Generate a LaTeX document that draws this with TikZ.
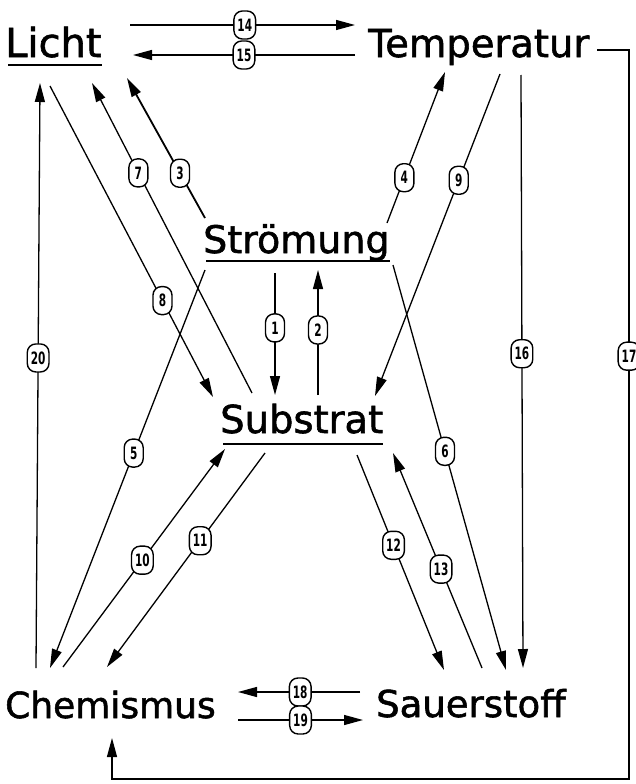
\documentclass[tikz,border=0pt]{standalone}
\usepackage{fontspec}
\setmainfont{DejaVu Sans}
\newfontfamily\wordfont{DejaVu Sans}[FakeBold=1.5]
\newfontfamily\numfont{DejaVu Sans Bold}[FakeStretch=0.62]
\usetikzlibrary{arrows.meta}
\tikzset{
  word/.style={anchor=base west, inner sep=0pt, font=\wordfont\fontsize{#1}{40}\selectfont},
  uline/.style={line width=1.8pt},
  conn/.style={line width=1.3pt, -{Triangle[length=19pt,width=10pt]}},
  lab/.style={draw, fill=white, line width=1.4pt, rounded corners=8.5pt,
    minimum width=19pt, minimum height=28pt, inner xsep=3.5pt, inner ysep=0pt,
    font=\numfont\fontsize{17}{17}\selectfont}
}
\begin{document}
\begin{tikzpicture}[x=1pt,y=-1pt]
\useasboundingbox (0,0) rectangle (635,784);

% the six quantities
\node[word=40] (licht) at (5,57) {Licht};
\node[word=38.5] (temp) at (368,57) {Temperatur};
\node[word=38] (stro) at (203,253) {Strömung};
\node[word=38.5] (subs) at (220,433) {Substrat};
\node[word=36] (chem) at (5,718) {Chemismus};
\node[word=37] (saue) at (376,717) {Sauerstoff};

\draw[uline] ([xshift=3pt,yshift=-8pt]licht.base west) -- ([yshift=-8pt]licht.base east);
\draw[uline] ([xshift=3pt,yshift=-8pt]stro.base west) -- ([yshift=-8pt]stro.base east);
\draw[uline] ([xshift=3pt,yshift=-11pt]subs.base west) -- ([yshift=-11pt]subs.base east);

% end points of the connectors
\coordinate (L14) at (130,25);  \coordinate (T14) at (355,25);
\coordinate (T15) at (355,55);  \coordinate (L15) at (133,55);
\coordinate (S1) at (275,273);  \coordinate (U1) at (275,395);
\coordinate (U2) at (318,395);  \coordinate (S2) at (318,270);
\coordinate (S3) at (205,218);  \coordinate (L3) at (127,78);
\coordinate (S4) at (387,223);  \coordinate (T4) at (445,72);
\coordinate (S5) at (205,270);  \coordinate (C5) at (50,668);
\coordinate (S6) at (393,265);  \coordinate (O6) at (506,670);
\coordinate (U7) at (252,393);  \coordinate (L7) at (92,83);
\coordinate (L8) at (50,86);    \coordinate (U8) at (213,397);
\coordinate (T9) at (500,74);   \coordinate (U9) at (375,396);
\coordinate (C10) at (63,667);  \coordinate (U10) at (225,449);
\coordinate (U11) at (265,453); \coordinate (C11) at (107,667);
\coordinate (U12) at (357,455); \coordinate (O12) at (444,670);
\coordinate (O13) at (482,668); \coordinate (U13) at (393,453);
\coordinate (T16) at (521,75);  \coordinate (O16) at (523,668);
\coordinate (T17) at (597,50);  \coordinate (C17) at (112,738);
\coordinate (O18) at (360,692); \coordinate (C18) at (238,692);
\coordinate (C19) at (238,720); \coordinate (O19) at (363,720);
\coordinate (C20) at (36,668);  \coordinate (L20) at (40,83);

% connectors with their numbers
\draw[conn] (L14) -- node[lab,pos=.51] {14} (T14);
\draw[conn] (T15) -- node[lab,pos=.5] {15} (L15);
\draw[conn] (S1) -- node[lab,pos=.45] {1} (U1);
\draw[conn] (U2) -- node[lab,pos=.52] {2} (S2);
\draw[conn,line width=1.8pt] (S3) -- node[lab,pos=.32] {3} (L3);
\draw[conn] (S4) -- node[lab,pos=.30] {4} (T4);
\draw[conn] (S5) -- node[lab,pos=.46] {5} (C5);
\draw[conn] (S6) -- node[lab,pos=.46] {6} (O6);
\draw[conn] (U7) -- node[lab,pos=.71] {7} (L7);
\draw[conn] (L8) -- node[lab,pos=.69] {8} (U8);
\draw[conn] (T9) -- node[lab,pos=.33] {9} (U9);
\draw[conn] (C10) -- node[lab,pos=.49] {10} (U10);
\draw[conn] (U11) -- node[lab,pos=.41] {11} (C11);
\draw[conn] (U12) -- node[lab,pos=.42] {12} (O12);
\draw[conn] (O13) -- node[lab,pos=.46] {13} (U13);
\draw[conn] (T16) -- node[lab,pos=.47] {16} (O16);
\draw[conn] (T17) -- (629,50) -- node[lab,pos=.42] {17} (629,779) -| (C17);
\draw[conn] (O18) -- node[lab,pos=.49] {18} (C18);
\draw[conn] (C19) -- node[lab,pos=.5] {19} (O19);
\draw[conn] (C20) -- node[lab,pos=.53] {20} (L20);
\end{tikzpicture}
\end{document}
